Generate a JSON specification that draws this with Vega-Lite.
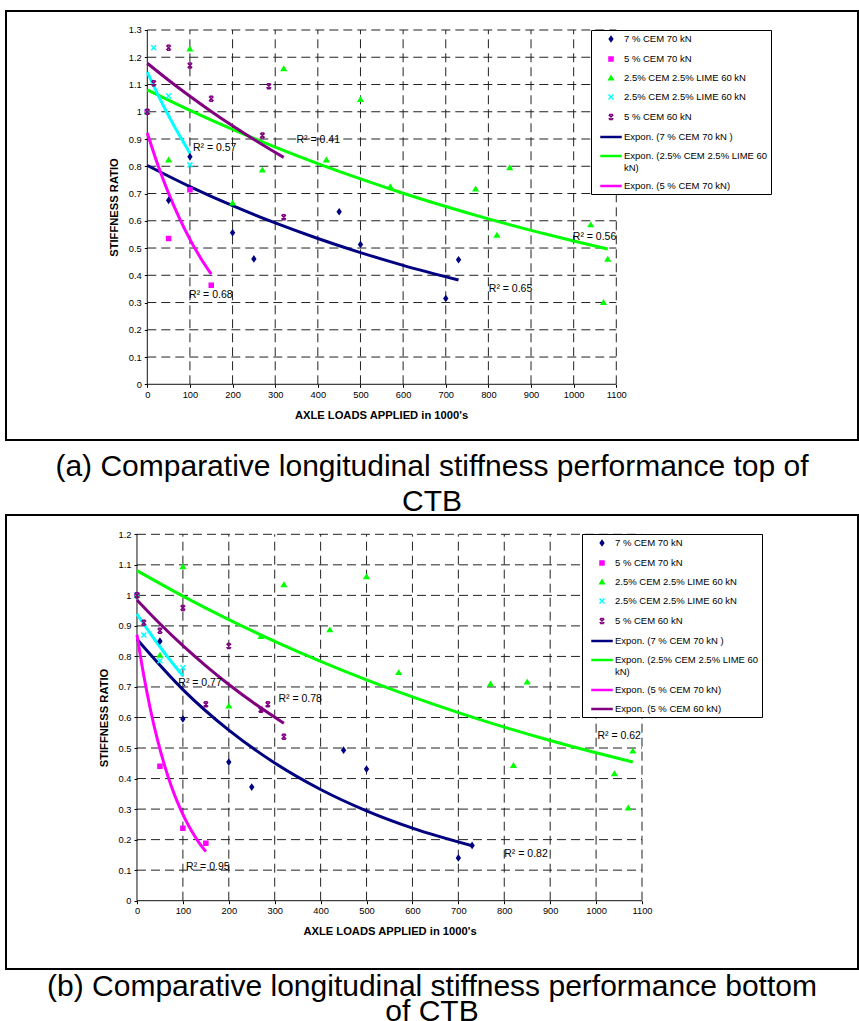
{
  "$schema": "https://vega.github.io/schema/vega-lite/v6.json",
  "padding": {"left": 5, "top": 10, "right": 0, "bottom": 0},
  "background": "white",
  "spacing": 0,
  "bounds": "flush",
  "resolve": {
    "scale": {"color": "independent", "shape": "independent", "stroke": "independent", "x": "independent", "y": "independent"},
    "legend": {"color": "independent", "shape": "independent"}
  },
  "config": {
    "font": "Liberation Sans",
    "view": {"stroke": "black", "strokeWidth": 2},
    "axis": {"domain": false, "grid": false, "ticks": true, "tickSize": 3, "tickColor": "black", "tickWidth": 1,
      "labelFont": "Liberation Sans", "labelFontSize": 9.3, "labelColor": "black", "labelPadding": 3,
      "titleFont": "Liberation Sans", "titleFontSize": 11.2, "titleFontWeight": "bold", "titleColor": "black",
      "labelFlush": false, "labelOverlap": false},
    "legend": {"strokeColor": "black", "fillColor": "white", "padding": 3, "labelFont": "Liberation Sans",
      "labelFontSize": 9.5, "labelColor": "black", "labelOffset": 7, "symbolOffset": 11, "rowPadding": 8,
      "symbolSize": 100, "symbolStrokeWidth": 1.5, "labelLimit": 300}
  },
  "datasets": {
    "gridX": [{"v": 100}, {"v": 200}, {"v": 300}, {"v": 400}, {"v": 500}, {"v": 600}, {"v": 700}, {"v": 800}, {"v": 900}, {"v": 1000}, {"v": 1100}],
    "gridYA": [{"v": 0.1}, {"v": 0.2}, {"v": 0.3}, {"v": 0.4}, {"v": 0.5}, {"v": 0.6}, {"v": 0.7}, {"v": 0.8}, {"v": 0.9}, {"v": 1.0}, {"v": 1.1}, {"v": 1.2}, {"v": 1.3}],
    "gridYB": [{"v": 0.1}, {"v": 0.2}, {"v": 0.3}, {"v": 0.4}, {"v": 0.5}, {"v": 0.6}, {"v": 0.7}, {"v": 0.8}, {"v": 0.9}, {"v": 1.0}, {"v": 1.1}, {"v": 1.2}],
    "one": [{}],
    "ptsA": [
      {"series": "7 % CEM 70 kN", "x": 0, "y": 1}, {"series": "7 % CEM 70 kN", "x": 50, "y": 0.675}, {"series": "7 % CEM 70 kN", "x": 100, "y": 0.835}, {"series": "7 % CEM 70 kN", "x": 200, "y": 0.556}, {"series": "7 % CEM 70 kN", "x": 250, "y": 0.46}, {"series": "7 % CEM 70 kN", "x": 450, "y": 0.633}, {"series": "7 % CEM 70 kN", "x": 500, "y": 0.513}, {"series": "7 % CEM 70 kN", "x": 700, "y": 0.315}, {"series": "7 % CEM 70 kN", "x": 730, "y": 0.457},
      {"series": "5 % CEM 70 kN", "x": 0, "y": 1}, {"series": "5 % CEM 70 kN", "x": 50, "y": 0.535}, {"series": "5 % CEM 70 kN", "x": 100, "y": 0.714}, {"series": "5 % CEM 70 kN", "x": 150, "y": 0.363},
      {"series": "2.5% CEM 2.5% LIME 60 kN", "x": 0, "y": 1}, {"series": "2.5% CEM 2.5% LIME 60 kN", "x": 50, "y": 0.823}, {"series": "2.5% CEM 2.5% LIME 60 kN", "x": 100, "y": 1.23}, {"series": "2.5% CEM 2.5% LIME 60 kN", "x": 200, "y": 0.665}, {"series": "2.5% CEM 2.5% LIME 60 kN", "x": 270, "y": 0.786}, {"series": "2.5% CEM 2.5% LIME 60 kN", "x": 320, "y": 1.158}, {"series": "2.5% CEM 2.5% LIME 60 kN", "x": 420, "y": 0.823}, {"series": "2.5% CEM 2.5% LIME 60 kN", "x": 500, "y": 1.045}, {"series": "2.5% CEM 2.5% LIME 60 kN", "x": 570, "y": 0.725}, {"series": "2.5% CEM 2.5% LIME 60 kN", "x": 770, "y": 0.717}, {"series": "2.5% CEM 2.5% LIME 60 kN", "x": 820, "y": 0.547}, {"series": "2.5% CEM 2.5% LIME 60 kN", "x": 850, "y": 0.795}, {"series": "2.5% CEM 2.5% LIME 60 kN", "x": 1040, "y": 0.585}, {"series": "2.5% CEM 2.5% LIME 60 kN", "x": 1070, "y": 0.3}, {"series": "2.5% CEM 2.5% LIME 60 kN", "x": 1080, "y": 0.459},
      {"series": "2.5% CEM 2.5% LIME 60 kN ", "x": 0, "y": 1}, {"series": "2.5% CEM 2.5% LIME 60 kN ", "x": 15, "y": 1.235}, {"series": "2.5% CEM 2.5% LIME 60 kN ", "x": 50, "y": 1.058}, {"series": "2.5% CEM 2.5% LIME 60 kN ", "x": 100, "y": 0.805},
      {"series": "5 % CEM 60 kN", "x": 0, "y": 1}, {"series": "5 % CEM 60 kN", "x": 15, "y": 1.105}, {"series": "5 % CEM 60 kN", "x": 50, "y": 1.235}, {"series": "5 % CEM 60 kN", "x": 100, "y": 1.17}, {"series": "5 % CEM 60 kN", "x": 150, "y": 1.048}, {"series": "5 % CEM 60 kN", "x": 270, "y": 0.913}, {"series": "5 % CEM 60 kN", "x": 285, "y": 1.094}, {"series": "5 % CEM 60 kN", "x": 320, "y": 0.613}
    ],
    "fitA": [
      {"series": "Expon. (7 % CEM 70 kN  )", "x": 0, "y": 0.803}, {"series": "Expon. (7 % CEM 70 kN  )", "x": 100, "y": 0.7254}, {"series": "Expon. (7 % CEM 70 kN  )", "x": 200, "y": 0.6553}, {"series": "Expon. (7 % CEM 70 kN  )", "x": 300, "y": 0.592}, {"series": "Expon. (7 % CEM 70 kN  )", "x": 400, "y": 0.5349}, {"series": "Expon. (7 % CEM 70 kN  )", "x": 500, "y": 0.4832}, {"series": "Expon. (7 % CEM 70 kN  )", "x": 600, "y": 0.4365}, {"series": "Expon. (7 % CEM 70 kN  )", "x": 730, "y": 0.3825},
      {"series": "Expon. (5 % CEM 70 kN)", "x": 0, "y": 0.922}, {"series": "Expon. (5 % CEM 70 kN)", "x": 25, "y": 0.8036}, {"series": "Expon. (5 % CEM 70 kN)", "x": 50, "y": 0.7004}, {"series": "Expon. (5 % CEM 70 kN)", "x": 75, "y": 0.6104}, {"series": "Expon. (5 % CEM 70 kN)", "x": 100, "y": 0.5319}, {"series": "Expon. (5 % CEM 70 kN)", "x": 125, "y": 0.4636}, {"series": "Expon. (5 % CEM 70 kN)", "x": 150, "y": 0.404},
      {"series": "Expon. (2.5% CEM 2.5% LIME 60 kN)", "x": 0, "y": 1.08}, {"series": "Expon. (2.5% CEM 2.5% LIME 60 kN)", "x": 100, "y": 1.005}, {"series": "Expon. (2.5% CEM 2.5% LIME 60 kN)", "x": 200, "y": 0.9351}, {"series": "Expon. (2.5% CEM 2.5% LIME 60 kN)", "x": 300, "y": 0.8702}, {"series": "Expon. (2.5% CEM 2.5% LIME 60 kN)", "x": 400, "y": 0.8097}, {"series": "Expon. (2.5% CEM 2.5% LIME 60 kN)", "x": 500, "y": 0.7535}, {"series": "Expon. (2.5% CEM 2.5% LIME 60 kN)", "x": 600, "y": 0.7011}, {"series": "Expon. (2.5% CEM 2.5% LIME 60 kN)", "x": 700, "y": 0.6524}, {"series": "Expon. (2.5% CEM 2.5% LIME 60 kN)", "x": 800, "y": 0.6071}, {"series": "Expon. (2.5% CEM 2.5% LIME 60 kN)", "x": 900, "y": 0.5649}, {"series": "Expon. (2.5% CEM 2.5% LIME 60 kN)", "x": 1000, "y": 0.5257}, {"series": "Expon. (2.5% CEM 2.5% LIME 60 kN)", "x": 1080, "y": 0.4964},
      {"series": "Expon. (2.5% CEM 2.5% LIME 60 kN )", "x": 0, "y": 1.145}, {"series": "Expon. (2.5% CEM 2.5% LIME 60 kN )", "x": 25, "y": 1.0622}, {"series": "Expon. (2.5% CEM 2.5% LIME 60 kN )", "x": 50, "y": 0.9855}, {"series": "Expon. (2.5% CEM 2.5% LIME 60 kN )", "x": 75, "y": 0.9143}, {"series": "Expon. (2.5% CEM 2.5% LIME 60 kN )", "x": 100, "y": 0.8482},
      {"series": "Expon. (5 % CEM 60 kN)", "x": 0, "y": 1.178}, {"series": "Expon. (5 % CEM 60 kN)", "x": 50, "y": 1.1158}, {"series": "Expon. (5 % CEM 60 kN)", "x": 100, "y": 1.057}, {"series": "Expon. (5 % CEM 60 kN)", "x": 150, "y": 1.0013}, {"series": "Expon. (5 % CEM 60 kN)", "x": 200, "y": 0.9484}, {"series": "Expon. (5 % CEM 60 kN)", "x": 250, "y": 0.8985}, {"series": "Expon. (5 % CEM 60 kN)", "x": 320, "y": 0.8326}
    ],
    "r2A": [
      {"x": 107, "y": 0.868, "label": "R² = 0.57"}, {"x": 350, "y": 0.897, "label": "R² = 0.41"}, {"x": 98, "y": 0.327, "label": "R² = 0.68"}, {"x": 801, "y": 0.349, "label": "R² = 0.65"}, {"x": 998, "y": 0.542, "label": "R² = 0.56"}
    ],
    "ptsB": [
      {"series": "7 % CEM 70 kN", "x": 0, "y": 1}, {"series": "7 % CEM 70 kN", "x": 50, "y": 0.85}, {"series": "7 % CEM 70 kN", "x": 100, "y": 0.595}, {"series": "7 % CEM 70 kN", "x": 200, "y": 0.454}, {"series": "7 % CEM 70 kN", "x": 250, "y": 0.372}, {"series": "7 % CEM 70 kN", "x": 450, "y": 0.493}, {"series": "7 % CEM 70 kN", "x": 500, "y": 0.431}, {"series": "7 % CEM 70 kN", "x": 700, "y": 0.14}, {"series": "7 % CEM 70 kN", "x": 730, "y": 0.181},
      {"series": "5 % CEM 70 kN", "x": 0, "y": 1}, {"series": "5 % CEM 70 kN", "x": 50, "y": 0.44}, {"series": "5 % CEM 70 kN", "x": 100, "y": 0.237}, {"series": "5 % CEM 70 kN", "x": 150, "y": 0.188},
      {"series": "2.5% CEM 2.5% LIME 60 kN", "x": 0, "y": 1}, {"series": "2.5% CEM 2.5% LIME 60 kN", "x": 50, "y": 0.804}, {"series": "2.5% CEM 2.5% LIME 60 kN", "x": 100, "y": 1.094}, {"series": "2.5% CEM 2.5% LIME 60 kN", "x": 200, "y": 0.638}, {"series": "2.5% CEM 2.5% LIME 60 kN", "x": 270, "y": 0.865}, {"series": "2.5% CEM 2.5% LIME 60 kN", "x": 320, "y": 1.035}, {"series": "2.5% CEM 2.5% LIME 60 kN", "x": 420, "y": 0.887}, {"series": "2.5% CEM 2.5% LIME 60 kN", "x": 500, "y": 1.061}, {"series": "2.5% CEM 2.5% LIME 60 kN", "x": 570, "y": 0.747}, {"series": "2.5% CEM 2.5% LIME 60 kN", "x": 770, "y": 0.71}, {"series": "2.5% CEM 2.5% LIME 60 kN", "x": 820, "y": 0.443}, {"series": "2.5% CEM 2.5% LIME 60 kN", "x": 850, "y": 0.716}, {"series": "2.5% CEM 2.5% LIME 60 kN", "x": 1040, "y": 0.416}, {"series": "2.5% CEM 2.5% LIME 60 kN", "x": 1070, "y": 0.304}, {"series": "2.5% CEM 2.5% LIME 60 kN", "x": 1080, "y": 0.49},
      {"series": "2.5% CEM 2.5% LIME 60 kN ", "x": 0, "y": 1}, {"series": "2.5% CEM 2.5% LIME 60 kN ", "x": 15, "y": 0.87}, {"series": "2.5% CEM 2.5% LIME 60 kN ", "x": 50, "y": 0.786}, {"series": "2.5% CEM 2.5% LIME 60 kN ", "x": 100, "y": 0.763},
      {"series": "5 % CEM 60 kN", "x": 0, "y": 1}, {"series": "5 % CEM 60 kN", "x": 15, "y": 0.91}, {"series": "5 % CEM 60 kN", "x": 50, "y": 0.884}, {"series": "5 % CEM 60 kN", "x": 100, "y": 0.959}, {"series": "5 % CEM 60 kN", "x": 150, "y": 0.643}, {"series": "5 % CEM 60 kN", "x": 200, "y": 0.834}, {"series": "5 % CEM 60 kN", "x": 270, "y": 0.625}, {"series": "5 % CEM 60 kN", "x": 285, "y": 0.643}, {"series": "5 % CEM 60 kN", "x": 320, "y": 0.537}
    ],
    "fitB": [
      {"series": "Expon. (7 % CEM 70 kN  )", "x": 0, "y": 0.856}, {"series": "Expon. (7 % CEM 70 kN  )", "x": 100, "y": 0.6914}, {"series": "Expon. (7 % CEM 70 kN  )", "x": 200, "y": 0.5585}, {"series": "Expon. (7 % CEM 70 kN  )", "x": 300, "y": 0.4511}, {"series": "Expon. (7 % CEM 70 kN  )", "x": 400, "y": 0.3643}, {"series": "Expon. (7 % CEM 70 kN  )", "x": 500, "y": 0.2943}, {"series": "Expon. (7 % CEM 70 kN  )", "x": 600, "y": 0.2377}, {"series": "Expon. (7 % CEM 70 kN  )", "x": 730, "y": 0.1801},
      {"series": "Expon. (5 % CEM 70 kN)", "x": 0, "y": 0.871}, {"series": "Expon. (5 % CEM 70 kN)", "x": 15, "y": 0.7356}, {"series": "Expon. (5 % CEM 70 kN)", "x": 30, "y": 0.6214}, {"series": "Expon. (5 % CEM 70 kN)", "x": 45, "y": 0.5248}, {"series": "Expon. (5 % CEM 70 kN)", "x": 60, "y": 0.4433}, {"series": "Expon. (5 % CEM 70 kN)", "x": 75, "y": 0.3744}, {"series": "Expon. (5 % CEM 70 kN)", "x": 90, "y": 0.3163}, {"series": "Expon. (5 % CEM 70 kN)", "x": 105, "y": 0.2671}, {"series": "Expon. (5 % CEM 70 kN)", "x": 120, "y": 0.2256}, {"series": "Expon. (5 % CEM 70 kN)", "x": 135, "y": 0.1905}, {"series": "Expon. (5 % CEM 70 kN)", "x": 150, "y": 0.161},
      {"series": "Expon. (2.5% CEM 2.5% LIME 60 kN)", "x": 0, "y": 1.081}, {"series": "Expon. (2.5% CEM 2.5% LIME 60 kN)", "x": 100, "y": 0.9976}, {"series": "Expon. (2.5% CEM 2.5% LIME 60 kN)", "x": 200, "y": 0.9206}, {"series": "Expon. (2.5% CEM 2.5% LIME 60 kN)", "x": 300, "y": 0.8496}, {"series": "Expon. (2.5% CEM 2.5% LIME 60 kN)", "x": 400, "y": 0.784}, {"series": "Expon. (2.5% CEM 2.5% LIME 60 kN)", "x": 500, "y": 0.7235}, {"series": "Expon. (2.5% CEM 2.5% LIME 60 kN)", "x": 600, "y": 0.6677}, {"series": "Expon. (2.5% CEM 2.5% LIME 60 kN)", "x": 700, "y": 0.6162}, {"series": "Expon. (2.5% CEM 2.5% LIME 60 kN)", "x": 800, "y": 0.5686}, {"series": "Expon. (2.5% CEM 2.5% LIME 60 kN)", "x": 900, "y": 0.5248}, {"series": "Expon. (2.5% CEM 2.5% LIME 60 kN)", "x": 1000, "y": 0.4843}, {"series": "Expon. (2.5% CEM 2.5% LIME 60 kN)", "x": 1080, "y": 0.4541},
      {"series": "Expon. (2.5% CEM 2.5% LIME 60 kN )", "x": 0, "y": 0.939}, {"series": "Expon. (2.5% CEM 2.5% LIME 60 kN )", "x": 25, "y": 0.8837}, {"series": "Expon. (2.5% CEM 2.5% LIME 60 kN )", "x": 50, "y": 0.8317}, {"series": "Expon. (2.5% CEM 2.5% LIME 60 kN )", "x": 75, "y": 0.7827}, {"series": "Expon. (2.5% CEM 2.5% LIME 60 kN )", "x": 100, "y": 0.7365},
      {"series": "Expon. (5 % CEM 60 kN)", "x": 0, "y": 0.985}, {"series": "Expon. (5 % CEM 60 kN)", "x": 50, "y": 0.907}, {"series": "Expon. (5 % CEM 60 kN)", "x": 100, "y": 0.8352}, {"series": "Expon. (5 % CEM 60 kN)", "x": 150, "y": 0.7691}, {"series": "Expon. (5 % CEM 60 kN)", "x": 200, "y": 0.7081}, {"series": "Expon. (5 % CEM 60 kN)", "x": 250, "y": 0.6521}, {"series": "Expon. (5 % CEM 60 kN)", "x": 320, "y": 0.5811}
    ],
    "r2B": [
      {"x": 90, "y": 0.712, "label": "R² = 0.77"}, {"x": 308, "y": 0.661, "label": "R² = 0.78"}, {"x": 107, "y": 0.111, "label": "R² = 0.95"}, {"x": 800, "y": 0.153, "label": "R² = 0.82"}, {"x": 1003, "y": 0.54, "label": "R² = 0.62"}
    ],
    "capA": [{"t": "(a) Comparative longitudinal stiffness performance top of\nCTB"}],
    "capB": [{"t": "(b) Comparative longitudinal stiffness performance bottom\nof CTB"}]
  },
  "vconcat": [
    {
      "width": 852, "height": 429,
      "layer": [
        {"data": {"name": "gridX"}, "mark": {"type": "rule", "strokeDash": [9, 5], "color": "#222222", "strokeWidth": 1},
          "encoding": {"x": {"field": "v", "type": "quantitative", "scale": {"domain": [-331.4, 1666.9], "nice": false, "zero": false}},
            "y": {"datum": 0, "type": "quantitative", "scale": {"domain": [-0.2044, 1.3697], "nice": false, "zero": false}}, "y2": {"datum": 1.3}}},
        {"data": {"name": "gridYA"}, "mark": {"type": "rule", "strokeDash": [9, 5], "color": "#222222", "strokeWidth": 1},
          "encoding": {"y": {"field": "v", "type": "quantitative", "scale": {"domain": [-0.2044, 1.3697], "nice": false, "zero": false}},
            "x": {"datum": 0, "type": "quantitative", "scale": {"domain": [-331.4, 1666.9], "nice": false, "zero": false}}, "x2": {"datum": 1100}}},
        {"data": {"name": "one"}, "mark": {"type": "rule", "color": "#111111", "strokeWidth": 1},
          "encoding": {"x": {"datum": 0, "type": "quantitative"}, "y": {"datum": 0, "type": "quantitative"}, "y2": {"datum": 1.3}}},
        {"data": {"name": "one"}, "mark": {"type": "rule", "color": "#111111", "strokeWidth": 1},
          "encoding": {"y": {"datum": 0, "type": "quantitative"}, "x": {"datum": 0, "type": "quantitative"}, "x2": {"datum": 1100}}},
        {"data": {"name": "fitA"}, "mark": {"type": "line", "strokeWidth": 3, "interpolate": "monotone"},
          "encoding": {
            "x": {"field": "x", "type": "quantitative"},
            "y": {"field": "y", "type": "quantitative"},
            "color": {"field": "series", "type": "nominal",
              "scale": {"domain": ["7 % CEM 70 kN", "5 % CEM 70 kN", "2.5% CEM 2.5% LIME 60 kN", "2.5% CEM 2.5% LIME 60 kN ", "5 % CEM 60 kN", "Expon. (7 % CEM 70 kN  )", "Expon. (2.5% CEM 2.5% LIME 60 kN)", "Expon. (5 % CEM 70 kN)", "Expon. (5 % CEM 60 kN)", "Expon. (2.5% CEM 2.5% LIME 60 kN )"],
                "range": ["#000080", "#FF00FF", "#00FF00", "#00FFFF", "#800080", "#000080", "#00FF00", "#FF00FF", "#800080", "#00FFFF"]},
              "legend": {"orient": "none", "legendX": 585, "legendY": 19, "title": null,
                "values": ["7 % CEM 70 kN", "5 % CEM 70 kN", "2.5% CEM 2.5% LIME 60 kN", "2.5% CEM 2.5% LIME 60 kN ", "5 % CEM 60 kN", "Expon. (7 % CEM 70 kN  )", "Expon. (2.5% CEM 2.5% LIME 60 kN)", "Expon. (5 % CEM 70 kN)"],
                "labelExpr": "datum.label == 'Expon. (2.5% CEM 2.5% LIME 60 kN)' ? ['Expon. (2.5% CEM 2.5% LIME 60', 'kN)'] : datum.label"}}
          }},
        {"data": {"name": "ptsA"}, "mark": {"type": "point", "filled": true, "size": 100, "strokeWidth": 1.5, "opacity": 1},
          "encoding": {
            "x": {"field": "x", "type": "quantitative", "scale": {"domain": [-331.4, 1666.9], "nice": false, "zero": false},
              "axis": {"values": [0, 100, 200, 300, 400, 500, 600, 700, 800, 900, 1000, 1100], "tickCount": 30, "format": "d", "labelOverlap": false, "offset": -55.7, "title": "AXLE LOADS APPLIED in 1000's", "titleX": 375, "titlePadding": 10}},
            "y": {"field": "y", "type": "quantitative", "scale": {"domain": [-0.2044, 1.3697], "nice": false, "zero": false},
              "axis": {"values": [0, 0.1, 0.2, 0.3, 0.4, 0.5, 0.6, 0.7, 0.8, 0.9, 1, 1.1, 1.2, 1.3], "tickCount": 30, "format": "~g", "labelOverlap": false, "offset": -141.3, "title": "STIFFNESS RATIO", "titleY": 196, "titlePadding": 9}},
            "color": {"field": "series", "type": "nominal",
              "scale": {"domain": ["7 % CEM 70 kN", "5 % CEM 70 kN", "2.5% CEM 2.5% LIME 60 kN", "2.5% CEM 2.5% LIME 60 kN ", "5 % CEM 60 kN", "Expon. (7 % CEM 70 kN  )", "Expon. (2.5% CEM 2.5% LIME 60 kN)", "Expon. (5 % CEM 70 kN)", "Expon. (5 % CEM 60 kN)", "Expon. (2.5% CEM 2.5% LIME 60 kN )"],
                "range": ["#000080", "#FF00FF", "#00FF00", "#00FFFF", "#800080", "#000080", "#00FF00", "#FF00FF", "#800080", "#00FFFF"]},
              "legend": {"orient": "none", "legendX": 585, "legendY": 19, "title": null,
                "values": ["7 % CEM 70 kN", "5 % CEM 70 kN", "2.5% CEM 2.5% LIME 60 kN", "2.5% CEM 2.5% LIME 60 kN ", "5 % CEM 60 kN", "Expon. (7 % CEM 70 kN  )", "Expon. (2.5% CEM 2.5% LIME 60 kN)", "Expon. (5 % CEM 70 kN)"],
                "labelExpr": "datum.label == 'Expon. (2.5% CEM 2.5% LIME 60 kN)' ? ['Expon. (2.5% CEM 2.5% LIME 60', 'kN)'] : datum.label"}},
            "shape": {"field": "series", "type": "nominal",
              "scale": {"domain": ["7 % CEM 70 kN", "5 % CEM 70 kN", "2.5% CEM 2.5% LIME 60 kN", "2.5% CEM 2.5% LIME 60 kN ", "5 % CEM 60 kN", "Expon. (7 % CEM 70 kN  )", "Expon. (2.5% CEM 2.5% LIME 60 kN)", "Expon. (5 % CEM 70 kN)", "Expon. (5 % CEM 60 kN)", "Expon. (2.5% CEM 2.5% LIME 60 kN )"],
                "range": ["M0,-0.5L0.35,0L0,0.5L-0.35,0Z", "M-0.4,-0.4H0.4V0.4H-0.4Z", "M0,-0.4L0.45,0.35H-0.45Z", "M-0.5,-0.5L0.5,0.5M-0.5,0.5L0.5,-0.5", "M-0.45,-0.45L0.45,0.45M-0.45,0.45L0.45,-0.45M-0.35,-0.5H0.35M-0.35,0.5H0.35", "M-2,-0.1H2V0.1H-2Z", "M-2,-0.1H2V0.1H-2Z", "M-2,-0.1H2V0.1H-2Z", "M-2,-0.1H2V0.1H-2Z", "M-2,-0.1H2V0.1H-2Z"]},
              "legend": {"orient": "none", "legendX": 585, "legendY": 19, "title": null,
                "values": ["7 % CEM 70 kN", "5 % CEM 70 kN", "2.5% CEM 2.5% LIME 60 kN", "2.5% CEM 2.5% LIME 60 kN ", "5 % CEM 60 kN", "Expon. (7 % CEM 70 kN  )", "Expon. (2.5% CEM 2.5% LIME 60 kN)", "Expon. (5 % CEM 70 kN)"],
                "labelExpr": "datum.label == 'Expon. (2.5% CEM 2.5% LIME 60 kN)' ? ['Expon. (2.5% CEM 2.5% LIME 60', 'kN)'] : datum.label"}},
            "stroke": {"field": "series", "type": "nominal",
              "scale": {"domain": ["7 % CEM 70 kN", "5 % CEM 70 kN", "2.5% CEM 2.5% LIME 60 kN", "2.5% CEM 2.5% LIME 60 kN ", "5 % CEM 60 kN"],
                "range": ["#000080", "#FF00FF", "#00FF00", "#00FFFF", "#800080"]}, "legend": null}
          }},
        {"data": {"name": "r2A"}, "mark": {"type": "text", "align": "left", "baseline": "middle", "fontSize": 10.5, "color": "black", "font": "Liberation Sans"},
          "encoding": {"x": {"field": "x", "type": "quantitative"}, "y": {"field": "y", "type": "quantitative"}, "text": {"field": "label"}}}
      ]
    },
    {
      "width": 852, "height": 75,
      "data": {"name": "capA"},
      "mark": {"type": "text", "fontSize": 30, "font": "Liberation Sans", "lineBreak": "\n", "lineHeight": 35, "baseline": "middle", "align": "center", "dy": -10.5, "color": "black"},
      "encoding": {"text": {"field": "t"}}
    },
    {
      "width": 852, "height": 454,
      "layer": [
        {"data": {"name": "gridX"}, "mark": {"type": "rule", "strokeDash": [9, 5], "color": "#222222", "strokeWidth": 1},
          "encoding": {"x": {"field": "v", "type": "quantitative", "scale": {"domain": [-285.3, 1570.5], "nice": false, "zero": false}},
            "y": {"datum": 0, "type": "quantitative", "scale": {"domain": [-0.2237, 1.2632], "nice": false, "zero": false}}, "y2": {"datum": 1.2}}},
        {"data": {"name": "gridYB"}, "mark": {"type": "rule", "strokeDash": [9, 5], "color": "#222222", "strokeWidth": 1},
          "encoding": {"y": {"field": "v", "type": "quantitative", "scale": {"domain": [-0.2237, 1.2632], "nice": false, "zero": false}},
            "x": {"datum": 0, "type": "quantitative", "scale": {"domain": [-285.3, 1570.5], "nice": false, "zero": false}}, "x2": {"datum": 1100}}},
        {"data": {"name": "one"}, "mark": {"type": "rule", "color": "#111111", "strokeWidth": 1},
          "encoding": {"x": {"datum": 0, "type": "quantitative"}, "y": {"datum": 0, "type": "quantitative"}, "y2": {"datum": 1.2}}},
        {"data": {"name": "one"}, "mark": {"type": "rule", "color": "#111111", "strokeWidth": 1},
          "encoding": {"y": {"datum": 0, "type": "quantitative"}, "x": {"datum": 0, "type": "quantitative"}, "x2": {"datum": 1100}}},
        {"data": {"name": "fitB"}, "mark": {"type": "line", "strokeWidth": 3, "interpolate": "monotone"},
          "encoding": {
            "x": {"field": "x", "type": "quantitative"},
            "y": {"field": "y", "type": "quantitative"},
            "color": {"field": "series", "type": "nominal",
              "scale": {"domain": ["7 % CEM 70 kN", "5 % CEM 70 kN", "2.5% CEM 2.5% LIME 60 kN", "2.5% CEM 2.5% LIME 60 kN ", "5 % CEM 60 kN", "Expon. (7 % CEM 70 kN  )", "Expon. (2.5% CEM 2.5% LIME 60 kN)", "Expon. (5 % CEM 70 kN)", "Expon. (5 % CEM 60 kN)", "Expon. (2.5% CEM 2.5% LIME 60 kN )"],
                "range": ["#000080", "#FF00FF", "#00FF00", "#00FFFF", "#800080", "#000080", "#00FF00", "#FF00FF", "#800080", "#00FFFF"]},
              "legend": {"orient": "none", "legendX": 576, "legendY": 19, "title": null,
                "values": ["7 % CEM 70 kN", "5 % CEM 70 kN", "2.5% CEM 2.5% LIME 60 kN", "2.5% CEM 2.5% LIME 60 kN ", "5 % CEM 60 kN", "Expon. (7 % CEM 70 kN  )", "Expon. (2.5% CEM 2.5% LIME 60 kN)", "Expon. (5 % CEM 70 kN)", "Expon. (5 % CEM 60 kN)"],
                "labelExpr": "datum.label == 'Expon. (2.5% CEM 2.5% LIME 60 kN)' ? ['Expon. (2.5% CEM 2.5% LIME 60', 'kN)'] : datum.label"}}
          }},
        {"data": {"name": "ptsB"}, "mark": {"type": "point", "filled": true, "size": 100, "strokeWidth": 1.5, "opacity": 1},
          "encoding": {
            "x": {"field": "x", "type": "quantitative", "scale": {"domain": [-285.3, 1570.5], "nice": false, "zero": false},
              "axis": {"values": [0, 100, 200, 300, 400, 500, 600, 700, 800, 900, 1000, 1100], "tickCount": 30, "format": "d", "labelOverlap": false, "offset": -68.3, "title": "AXLE LOADS APPLIED in 1000's", "titleX": 383.5, "titlePadding": 9}},
            "y": {"field": "y", "type": "quantitative", "scale": {"domain": [-0.2237, 1.2632], "nice": false, "zero": false},
              "axis": {"values": [0, 0.1, 0.2, 0.3, 0.4, 0.5, 0.6, 0.7, 0.8, 0.9, 1, 1.1, 1.2], "tickCount": 30, "format": "~g", "labelOverlap": false, "offset": -131, "title": "STIFFNESS RATIO", "titleY": 202.5, "titlePadding": 9}},
            "color": {"field": "series", "type": "nominal",
              "scale": {"domain": ["7 % CEM 70 kN", "5 % CEM 70 kN", "2.5% CEM 2.5% LIME 60 kN", "2.5% CEM 2.5% LIME 60 kN ", "5 % CEM 60 kN", "Expon. (7 % CEM 70 kN  )", "Expon. (2.5% CEM 2.5% LIME 60 kN)", "Expon. (5 % CEM 70 kN)", "Expon. (5 % CEM 60 kN)", "Expon. (2.5% CEM 2.5% LIME 60 kN )"],
                "range": ["#000080", "#FF00FF", "#00FF00", "#00FFFF", "#800080", "#000080", "#00FF00", "#FF00FF", "#800080", "#00FFFF"]},
              "legend": {"orient": "none", "legendX": 576, "legendY": 19, "title": null,
                "values": ["7 % CEM 70 kN", "5 % CEM 70 kN", "2.5% CEM 2.5% LIME 60 kN", "2.5% CEM 2.5% LIME 60 kN ", "5 % CEM 60 kN", "Expon. (7 % CEM 70 kN  )", "Expon. (2.5% CEM 2.5% LIME 60 kN)", "Expon. (5 % CEM 70 kN)", "Expon. (5 % CEM 60 kN)"],
                "labelExpr": "datum.label == 'Expon. (2.5% CEM 2.5% LIME 60 kN)' ? ['Expon. (2.5% CEM 2.5% LIME 60', 'kN)'] : datum.label"}},
            "shape": {"field": "series", "type": "nominal",
              "scale": {"domain": ["7 % CEM 70 kN", "5 % CEM 70 kN", "2.5% CEM 2.5% LIME 60 kN", "2.5% CEM 2.5% LIME 60 kN ", "5 % CEM 60 kN", "Expon. (7 % CEM 70 kN  )", "Expon. (2.5% CEM 2.5% LIME 60 kN)", "Expon. (5 % CEM 70 kN)", "Expon. (5 % CEM 60 kN)", "Expon. (2.5% CEM 2.5% LIME 60 kN )"],
                "range": ["M0,-0.5L0.35,0L0,0.5L-0.35,0Z", "M-0.4,-0.4H0.4V0.4H-0.4Z", "M0,-0.4L0.45,0.35H-0.45Z", "M-0.5,-0.5L0.5,0.5M-0.5,0.5L0.5,-0.5", "M-0.45,-0.45L0.45,0.45M-0.45,0.45L0.45,-0.45M-0.35,-0.5H0.35M-0.35,0.5H0.35", "M-2,-0.1H2V0.1H-2Z", "M-2,-0.1H2V0.1H-2Z", "M-2,-0.1H2V0.1H-2Z", "M-2,-0.1H2V0.1H-2Z", "M-2,-0.1H2V0.1H-2Z"]},
              "legend": {"orient": "none", "legendX": 576, "legendY": 19, "title": null,
                "values": ["7 % CEM 70 kN", "5 % CEM 70 kN", "2.5% CEM 2.5% LIME 60 kN", "2.5% CEM 2.5% LIME 60 kN ", "5 % CEM 60 kN", "Expon. (7 % CEM 70 kN  )", "Expon. (2.5% CEM 2.5% LIME 60 kN)", "Expon. (5 % CEM 70 kN)", "Expon. (5 % CEM 60 kN)"],
                "labelExpr": "datum.label == 'Expon. (2.5% CEM 2.5% LIME 60 kN)' ? ['Expon. (2.5% CEM 2.5% LIME 60', 'kN)'] : datum.label"}},
            "stroke": {"field": "series", "type": "nominal",
              "scale": {"domain": ["7 % CEM 70 kN", "5 % CEM 70 kN", "2.5% CEM 2.5% LIME 60 kN", "2.5% CEM 2.5% LIME 60 kN ", "5 % CEM 60 kN"],
                "range": ["#000080", "#FF00FF", "#00FF00", "#00FFFF", "#800080"]}, "legend": null}
          }},
        {"data": {"name": "r2B"}, "mark": {"type": "text", "align": "left", "baseline": "middle", "fontSize": 10.5, "color": "black", "font": "Liberation Sans"},
          "encoding": {"x": {"field": "x", "type": "quantitative"}, "y": {"field": "y", "type": "quantitative"}, "text": {"field": "label"}}}
      ]
    },
    {
      "width": 852, "height": 51,
      "data": {"name": "capB"},
      "mark": {"type": "text", "fontSize": 30, "font": "Liberation Sans", "lineBreak": "\n", "lineHeight": 25, "baseline": "middle", "align": "center", "dy": -8, "color": "black"},
      "encoding": {"text": {"field": "t"}}
    }
  ]
}
